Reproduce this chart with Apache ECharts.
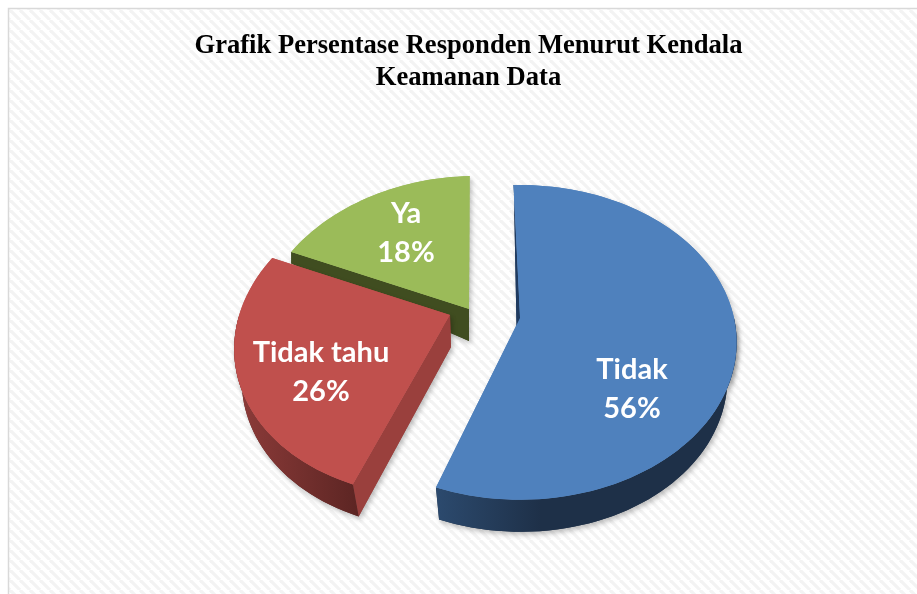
<!DOCTYPE html>
<html><head><meta charset="utf-8">
<style>html,body{margin:0;padding:0;background:#fff}#c{width:917px;height:594px}</style>
<script src="https://cdn.jsdelivr.net/npm/echarts@6/dist/echarts.min.js"></script>
</head><body><div id="c"></div>
<script>
var categories = ['Tidak', 'Tidak tahu', 'Ya'];
var values = [56, 26, 18];
var titleLines = ['Grafik Persentase Responden Menurut Kendala', 'Keamanan Data'];

var colors = ['#4f81bd', '#c0504d', '#9bbb59'];
var cutColors = ['#1f3a5f', '#9a403d', '#404d20'];
var wallLeft = ['#2c4a6e', '#8e3c3a', '#404d20'];
var wallRight = ['#1e3048', '#5c2523', '#404d20'];
var layout = [
  {ax: 520, ay: 318, rs: 1, sh: 0, sa: -3, sb: 4, sc: -7, lx: 632, ly: 389},
  {ax: 450, ay: 315, rs: 0.985, sh: -13, sa: 1, sb: 3, sc: -6, lx: 321, ly: 372},
  {ax: 469, ay: 309, rs: 0.975, sh: -8, sa: 0, sb: 0, sc: 0, lx: 406, ly: 233}
];
var RX = 214, RY = 153.6, K = 0.155, START = -2, DEPTH = 32;

function proj(l, r, deg) {
  var t = deg * Math.PI / 180, dx = r * Math.sin(t), dy = -r * Math.cos(t);
  var s = 1 / (1 - K * dy);
  return {x: l.ax + RX * l.rs * dx * s + l.sh * dy * s, y: l.ay + RY * dy * s, dx: dx, dy: dy};
}
function low(l, p) {
  var d = p.dy >= 0 ? DEPTH : Math.max(0, DEPTH + 52 * p.dy);
  var shift = p.dy >= 0 ? l.sa + l.sb * p.dy : l.sa * (1 + p.dy);
  return [p.x + shift + l.sc * p.dx, p.y + d];
}
function arc(l, a, b) {
  var out = [], n = Math.max(2, Math.ceil(Math.abs(b - a) / 2));
  for (var i = 0; i <= n; i++) out.push(proj(l, 1, a + (b - a) * i / n));
  return out;
}
var total = values.reduce(function (a, b) { return a + b; }, 0);

function renderSlice(params, api) {
  var i = params.dataIndex, l = layout[i], v = api.value(1), before = 0;
  for (var j = 0; j < i; j++) before += values[j];
  var a = START + before / total * 360, b = a + v / total * 360;
  var rim = arc(l, a, b), apex = proj(l, 0, 0);
  var top = [[apex.x, apex.y]].concat(rim.map(function (p) { return [p.x, p.y]; }));
  var apexLow = low(l, apex), sRim = rim[0], sLow = low(l, sRim);
  var cut = [[apex.x, apex.y], [sRim.x, sRim.y], sLow, apexLow];
  var front = rim.filter(function (p) { return p.dy >= -0.02; });
  var outer = null, outerFill = null;
  if (front.length > 1) {
    outer = front.map(function (p) { return [p.x, p.y]; })
      .concat(front.slice().reverse().map(function (p) { return low(l, p); }));
    var xs = outer.map(function (q) { return q[0]; });
    var x0 = Math.min.apply(null, xs), x1 = Math.max.apply(null, xs);
    var stops = i === 0
      ? [{offset: 0, color: wallLeft[i]}, {offset: 0.35, color: wallRight[i]}, {offset: 1, color: wallRight[i]}]
      : [{offset: 0, color: wallLeft[i]}, {offset: 1, color: wallRight[i]}];
    outerFill = new echarts.graphic.LinearGradient(x0, 0, x1, 0, stops, true);
  }
  var shadow = {shadowBlur: 5, shadowOffsetX: 2, shadowOffsetY: 3, shadowColor: 'rgba(0,0,0,0.25)'};
  // slices nearest the viewer are painted last: Ya, then Tidak tahu, then Tidak
  function poly(pts, fill, sh, z) {
    var st = {fill: fill};
    if (sh) for (var k in shadow) st[k] = shadow[k];
    return {type: 'polygon', z2: (2 - i) * 10 + z, shape: {points: pts}, style: st};
  }
  var kids = [poly(cut, cutColors[i], true, 0)];
  if (outer) kids.push(poly(outer, wallRight[i], true, 0));
  kids.push(poly(top, colors[i], true, 0));
  kids.push(poly(cut, cutColors[i], false, 1));
  if (outer) kids.push(poly(outer, outerFill, false, 2));
  kids.push(poly(top, colors[i], false, 3));
  kids.push({type: 'text', z2: 100, style: {
    text: categories[i] + '\n' + v + '%', x: l.lx, y: l.ly,
    fill: '#fff', align: 'center', verticalAlign: 'middle',
    font: 'bold 29px Lato', lineHeight: 39
  }});
  return {type: 'group', children: kids};
}

var tile = document.createElement('canvas');
tile.width = tile.height = 10;
var g = tile.getContext('2d');
g.fillStyle = '#fff'; g.fillRect(0, 0, 10, 10);
g.strokeStyle = '#f3f3f3'; g.lineWidth = 3.2;
[-10, 0, 10].forEach(function (o) {
  g.beginPath(); g.moveTo(o, 0); g.lineTo(o + 10, 10); g.stroke();
});

var chart = echarts.init(document.getElementById('c'), null, {renderer: 'canvas'});
chart.setOption({
  animation: false,
  backgroundColor: '#fff',
  title: {
    text: titleLines.join('\n'), left: 463.5, top: 25, textAlign: 'center',
    textStyle: {fontFamily: 'Liberation Serif', fontWeight: 'bold', fontSize: 26.6, lineHeight: 32, color: '#000'}
  },
  graphic: [{
    type: 'rect', z: -1, shape: {x: 8.5, y: 8.5, width: 930, height: 600},
    style: {fill: {type: 'pattern', image: tile, repeat: 'repeat'}, stroke: '#d9d9d9', lineWidth: 1.5}
  }],
  series: [{
    type: 'custom', coordinateSystem: 'none', renderItem: renderSlice,
    data: categories.map(function (c, i) { return [c, values[i]]; })
  }]
});
</script></body></html>
